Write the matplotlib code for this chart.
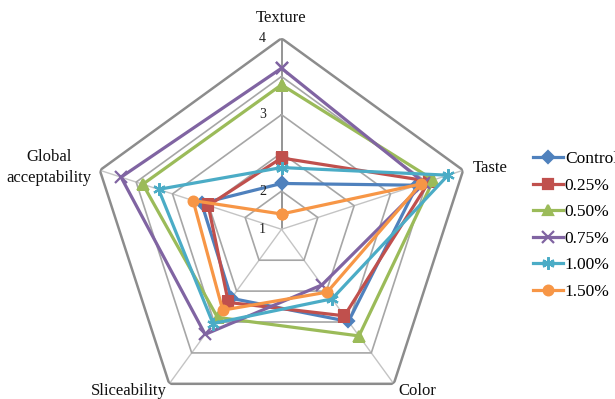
import numpy as np
import matplotlib
matplotlib.use("Agg")
import matplotlib.pyplot as plt
from matplotlib.lines import Line2D

plt.rcParams['font.family'] = ['Liberation Serif', 'DejaVu Serif']

# Sensory attributes (clockwise from the top)
attributes = ["Texture", "Taste", "Color", "Sliceability", "Global\nacceptability"]

# Mean sensory scores per formulation
series_names = ["Control", "0.25%", "0.50%", "0.75%", "1.00%", "1.50%"]
control = [1.72, 3.24, 2.79, 2.34, 2.32]
pct_025 = [2.12, 3.44, 2.68, 2.42, 2.21]
pct_050 = [3.27, 3.51, 3.07, 2.71, 3.29]
pct_075 = [3.53, 3.36, 2.08, 3.04, 3.65]
pct_100 = [1.97, 3.75, 2.35, 2.83, 3.03]
pct_150 = [1.24, 3.30, 2.22, 2.57, 2.46]

# Radial scale: 1 at the centre, 4 at the rim, five grid rings
r_min, r_max = 1.0, 4.0
ring_levels = [1.6, 2.2, 2.8, 3.4, 4.0]
tick_values = [1.0, 1.6, 2.8, 4.0]
tick_labels = ["1", "2", "3", "4"]

colors = ["#4F81BD", "#C0504D", "#9BBB59", "#8064A2", "#4BACC6", "#F79646"]
markers = ["D", "s", "^", "x", (6, 2, 0), "o"]
msizes = [6, 7, 7, 8, 9, 7]

W, H = 615, 399
fig = plt.figure(figsize=(W / 100, H / 100), dpi=100)
cx, cy, R = 281.5, 229.3, 191.0
ax = fig.add_axes([(cx - R) / W, (H - cy - R) / H, 2 * R / W, 2 * R / H],
                  projection="polar")
ax.set_theta_offset(np.pi / 2)
ax.set_theta_direction(-1)
ax.set_ylim(r_min, r_max)
ax.grid(False)
ax.set_xticks([])
ax.set_yticks([])
ax.spines['polar'].set_visible(False)
ax.patch.set_visible(False)

n = len(attributes)
angles = np.linspace(0, 2 * np.pi, n, endpoint=False)
closed = np.concatenate([angles, angles[:1]])

# Spokes
for i, a in enumerate(angles):
    if i == 0:
        ax.plot([a, a], [r_min, r_max], color="#8c8c8c", lw=1.3, zorder=1)
    else:
        ax.plot([a, a], [r_min, r_max], color="#c4c4c4", lw=1.0, zorder=1)

# Pentagonal grid rings
for lv in ring_levels:
    outer = lv == r_max
    ax.plot(closed, [lv] * (n + 1), color="#8c8c8c" if outer else "#a6a6a6",
            lw=1.8 if outer else 1.2, zorder=1)

# Data series
all_series = [control, pct_025, pct_050, pct_075, pct_100, pct_150]
for vals, name, c, m, ms in zip(all_series, series_names, colors, markers, msizes):
    v = np.concatenate([vals, vals[:1]])
    ax.plot(closed, v, color=c, lw=2.3, marker=m, markersize=ms,
            markeredgewidth=1.6, label=name, zorder=3)

# Radial tick labels along the Texture spoke
for tv, tl in zip(tick_values, tick_labels):
    ax.annotate(tl, xy=(0, tv), xytext=(-19, 0), textcoords="offset pixels",
                ha="center", va="center", fontsize=10, color="#222222")

# Attribute labels
label_offsets = [(0, 20, "center", "center"),
                 (10, 2, "left", "center"),
                 (5, -7, "left", "center"),
                 (-2, -7, "right", "center"),
                 (-51, 3, "center", "center")]
for a, lab, (dx, dy, ha, va) in zip(angles, attributes, label_offsets):
    ax.annotate(lab, xy=(a, r_max), xytext=(dx, dy), textcoords="offset pixels",
                ha=ha, va=va, fontsize=12, color="#111111",
                multialignment="center", linespacing=1.4)

# Legend on the right
handles = [Line2D([], [], color=c, lw=2.3, marker=m, markersize=ms,
                  markeredgewidth=1.6)
           for c, m, ms in zip(colors, markers, msizes)]
fig.legend(handles, series_names, loc="upper left",
           bbox_to_anchor=(533 / W, 1 - 151 / H), frameon=False,
           fontsize=12.5, handlelength=1.75, handletextpad=0.08,
           labelspacing=0.6, borderpad=0, borderaxespad=0, numpoints=1)

fig.savefig("out.png", dpi=100)
